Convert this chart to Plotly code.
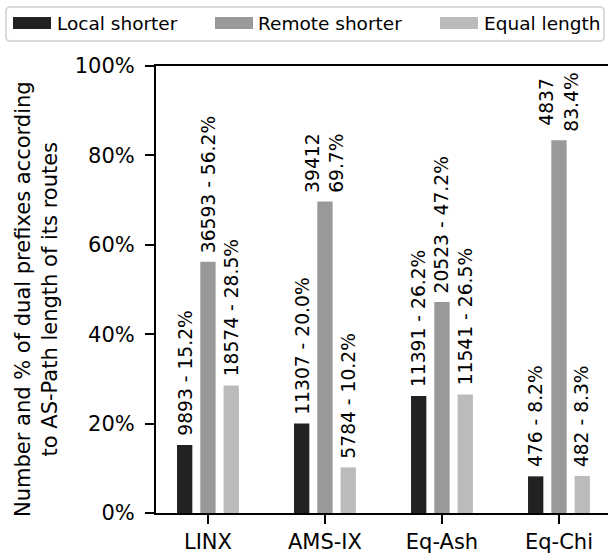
import plotly.graph_objects as go

# ---- data ----
categories = ["LINX", "AMS-IX", "Eq-Ash", "Eq-Chi"]
series_names = ["Local shorter", "Remote shorter", "Equal length"]
local_pct = [15.2, 20.0, 26.2, 8.2]
remote_pct = [56.2, 69.7, 47.2, 83.4]
equal_pct = [28.5, 10.2, 26.5, 8.3]
local_cnt = [9893, 11307, 11391, 476]
remote_cnt = [36593, 39412, 20523, 4837]
equal_cnt = [18574, 5784, 11541, 482]
# label separator: " - " on one line, or a line break for tall bars
local_sep = [" - ", " - ", " - ", " - "]
remote_sep = [" - ", "<br>", " - ", "<br>"]
equal_sep = [" - ", " - ", " - ", " - "]
y_tickvals = [0, 20, 40, 60, 80, 100]
y_ticktext = ["0%", "20%", "40%", "60%", "80%", "100%"]

# ---- style ----
W, H = 608, 556
ML, MR, MT, MB = 156, 0, 66, 43
PW, PH = W - ML - MR, H - MT - MB
colors = ["#222222", "#999999", "#bbbbbb"]
FONT = "DejaVu Sans"
offsets = [-0.199, 0.0, 0.199]


def px2paper_x(px):
    return (px - ML) / PW


def px2paper_y(py):
    return (H - MB - py) / PH


pcts = [local_pct, remote_pct, equal_pct]
cnts = [local_cnt, remote_cnt, equal_cnt]
seps = [local_sep, remote_sep, equal_sep]

fig = go.Figure()
for name, p, c in zip(series_names, pcts, colors):
    fig.add_trace(go.Bar(x=categories, y=p, name=name, marker=dict(color=c, line=dict(width=0)),
                         showlegend=False, hoverinfo="skip"))

annotations = []
for p, n, s, off in zip(pcts, cnts, seps, offsets):
    for i, (pv, nv, sv) in enumerate(zip(p, n, s)):
        annotations.append(dict(
            x=i + off, y=pv, xref="x", yref="y",
            text=f"{nv}{sv}{pv:.1f}%", textangle=-90,
            showarrow=False, xanchor="center", yanchor="bottom", yshift=7,
            font=dict(family=FONT, size=18.7, color="black"), align="center",
        ))

# y-axis title
annotations.append(dict(
    x=px2paper_x(36), y=px2paper_y(299), xref="paper", yref="paper",
    text="Number and % of dual prefixes according<br>to AS-Path length of its routes",
    textangle=-90, showarrow=False, xanchor="center", yanchor="middle",
    font=dict(family=FONT, size=21, color="black"), align="center",
))

# manual legend
shapes = []
x0, x1, y0, y1, r = 6, 604, 7, 41, 4
fx0, fx1 = px2paper_x(x0), px2paper_x(x1)
fy0, fy1 = px2paper_y(y0), px2paper_y(y1)
rx, ry = r / PW, r / PH
path = (f"M {fx0+rx},{fy0} L {fx1-rx},{fy0} Q {fx1},{fy0} {fx1},{fy0-ry} "
        f"L {fx1},{fy1+ry} Q {fx1},{fy1} {fx1-rx},{fy1} L {fx0+rx},{fy1} "
        f"Q {fx0},{fy1} {fx0},{fy1+ry} L {fx0},{fy0-ry} Q {fx0},{fy0} {fx0+rx},{fy0} Z")
shapes.append(dict(type="path", xref="paper", yref="paper", path=path,
                   line=dict(color="#d0d0d0", width=1.5), fillcolor="white", layer="above"))
swatch_x = [13, 215, 440]
text_x = [55, 256, 482]
for sx, tx, name, c in zip(swatch_x, text_x, series_names, colors):
    shapes.append(dict(type="rect", xref="paper", yref="paper",
                       x0=px2paper_x(sx), x1=px2paper_x(sx + 38),
                       y0=px2paper_y(17), y1=px2paper_y(29),
                       fillcolor=c, line=dict(width=0), layer="above"))
    annotations.append(dict(x=px2paper_x(tx), y=px2paper_y(23.5), xref="paper", yref="paper",
                            text=name, showarrow=False, xanchor="left", yanchor="middle",
                            font=dict(family=FONT, size=18.5, color="black")))

fig.update_layout(
    width=W, height=H,
    margin=dict(l=ML, r=MR, t=MT, b=MB, pad=0),
    paper_bgcolor="white", plot_bgcolor="white",
    barmode="group", bargap=0.403, bargroupgap=0.342,
    font=dict(family=FONT, size=21, color="black"),
    annotations=annotations, shapes=shapes, showlegend=False,
    xaxis=dict(range=[-0.444, 3.419], showline=True, mirror=True, linecolor="black", linewidth=2,
               ticks="outside", ticklen=9, tickwidth=2, tickcolor="black",
               showgrid=False, zeroline=False, tickfont=dict(size=21)),
    yaxis=dict(range=[0, 100], showline=True, linecolor="black", linewidth=2,
               ticks="outside", ticklen=9, tickwidth=2, tickcolor="black",
               tickvals=y_tickvals, ticktext=y_ticktext, ticklabelstandoff=6,
               showgrid=False, zeroline=False, tickfont=dict(size=21)),
)

fig.write_html("out.html", config={"displayModeBar": False},
               post_script="document.body.style.margin='0';document.body.style.overflow='hidden';")
